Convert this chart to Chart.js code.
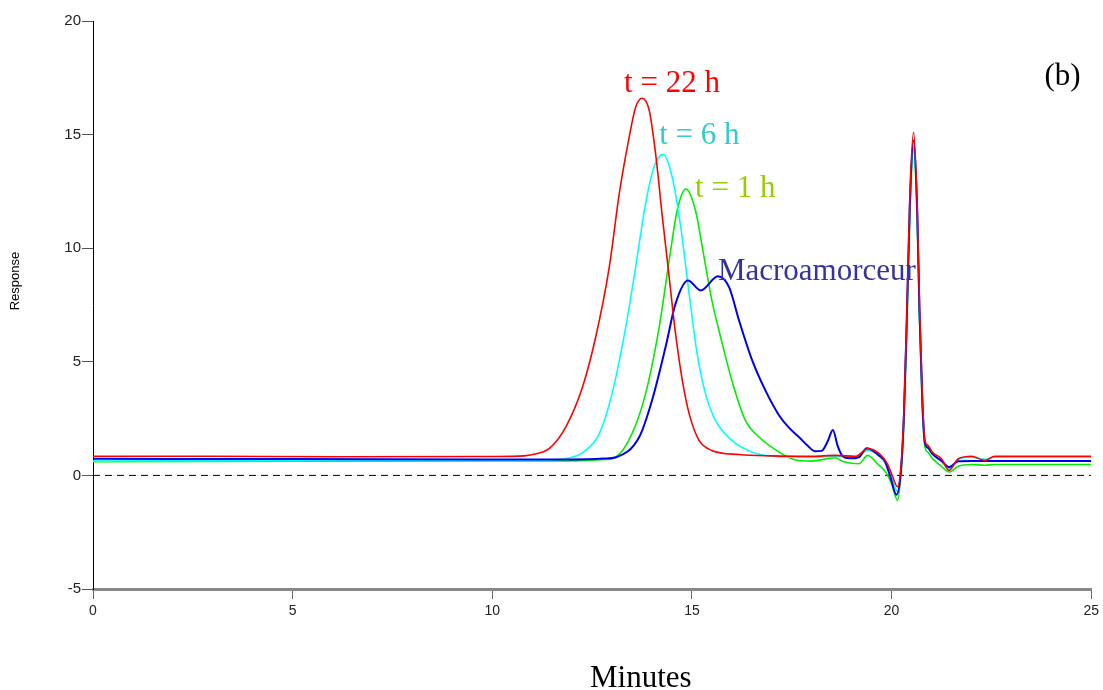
<!DOCTYPE html>
<html>
<head>
<meta charset="utf-8">
<script src="https://cdn.jsdelivr.net/npm/chart.js@4/dist/chart.umd.min.js"></script>
<style>
  html, body { margin: 0; padding: 0; background: #fff; }
  #wrap { width: 1103px; height: 690px; position: relative; }
</style>
</head>
<body>
<div id="wrap"><canvas id="chart"></canvas></div>
<script>
// SEC traces (minutes, response)
const t22Time = [0, 3, 6, 10, 10.8, 11.1, 11.43, 11.84, 12.26, 12.59, 12.93, 13.18, 13.43, 13.59, 13.75, 13.93, 14.09, 14.26, 14.43, 14.59, 14.76, 14.93, 15.18, 15.5, 16.18, 17, 18, 18.6, 19.1, 19.4, 19.7, 19.9, 20.0, 20.15, 20.24, 20.31, 20.38, 20.46, 20.55, 20.64, 20.7, 20.77, 20.83, 20.92, 21.02, 21.25, 21.44, 21.67, 22.0, 22.34, 22.58, 25];
const t22Resp = [0.84, 0.84, 0.82, 0.83, 0.86, 0.95, 1.19, 2.13, 3.89, 6.09, 9.17, 12.4, 14.9, 16.2, 16.6, 16.07, 14.16, 11.37, 8.73, 6.24, 4.18, 2.72, 1.54, 1.1, 0.92, 0.86, 0.84, 0.88, 0.84, 1.17, 0.95, 0.5, 0.07, -0.5, 0.5, 2.8, 7, 12.4, 15.1, 12, 7.5, 3.5, 1.6, 1.3, 1.03, 0.73, 0.22, 0.73, 0.84, 0.66, 0.84, 0.84];

const t6Time = [0, 5, 10, 11.5, 12.0, 12.3, 12.68, 13.0, 13.34, 13.59, 13.84, 14.05, 14.28, 14.51, 14.72, 14.93, 15.13, 15.34, 15.59, 16.0, 16.5, 17.0, 18, 18.6, 19.1, 19.4, 19.7, 19.9, 20.0, 20.15, 20.24, 20.31, 20.38, 20.46, 20.55, 20.64, 20.7, 20.77, 20.83, 20.92, 21.02, 21.25, 21.44, 21.67, 22.0, 22.34, 22.58, 25];
const t6Resp = [0.63, 0.65, 0.66, 0.68, 0.8, 1.05, 1.84, 3.6, 6.5, 9.17, 11.96, 13.57, 14.13, 13.1, 10.93, 8.0, 5.36, 3.6, 2.42, 1.54, 1.03, 0.85, 0.8, 0.85, 0.8, 1.1, 0.85, 0.4, -0.1, -0.7, 0.4, 2.6, 6.6, 11.8, 14.45, 11.5, 7, 3.2, 1.5, 1.2, 0.95, 0.6, 0.3, 0.7, 0.8, 0.7, 0.8, 0.8];

const t1Time = [0, 5, 10, 12, 12.8, 13.09, 13.5, 13.84, 14.18, 14.43, 14.63, 14.85, 15.09, 15.26, 15.5, 15.76, 16.0, 16.34, 16.68, 17.26, 17.6, 18.0, 18.58, 18.8, 19.18, 19.4, 19.65, 19.85, 20.0, 20.15, 20.24, 20.31, 20.38, 20.46, 20.55, 20.64, 20.7, 20.77, 20.83, 20.92, 21.02, 21.25, 21.44, 21.67, 22.0, 22.34, 22.58, 25];
const t1Resp = [0.6, 0.62, 0.64, 0.64, 0.7, 0.8, 1.84, 3.6, 6.53, 9.46, 11.66, 12.6, 11.66, 10.05, 7.7, 5.8, 4.18, 2.42, 1.69, 0.95, 0.68, 0.63, 0.78, 0.6, 0.51, 0.88, 0.51, 0.15, -0.37, -1.1, 0.2, 2.4, 6.4, 11.5, 14.4, 11.3, 6.8, 3.0, 1.3, 1.0, 0.75, 0.4, 0.15, 0.4, 0.48, 0.45, 0.48, 0.48];

const macroTime = [0, 5, 10, 12, 12.8, 13.1, 13.68, 14.0, 14.34, 14.59, 14.9, 15.22, 15.65, 15.93, 16.18, 16.51, 16.84, 17.18, 17.43, 17.68, 17.9, 18.09, 18.25, 18.4, 18.53, 18.65, 18.76, 18.94, 19.18, 19.38, 19.68, 19.84, 19.97, 20.12, 20.24, 20.31, 20.38, 20.46, 20.55, 20.64, 20.7, 20.77, 20.83, 20.92, 21.02, 21.25, 21.44, 21.67, 22.0, 25];
const macroResp = [0.73, 0.72, 0.7, 0.7, 0.74, 0.8, 1.69, 3.3, 5.65, 7.56, 8.58, 8.14, 8.77, 8.29, 6.82, 5.06, 3.74, 2.65, 2.1, 1.69, 1.3, 1.06, 1.08, 1.5, 2.0, 1.3, 0.88, 0.75, 0.8, 1.2, 0.88, 0.59, -0.07, -0.85, 0.3, 2.7, 6.8, 12.1, 14.74, 11.8, 7.2, 3.3, 1.5, 1.2, 0.95, 0.65, 0.37, 0.62, 0.63, 0.63];

const zeroTime = [0, 25];
const zeroResp = [0, 0];

const xTicks = [0, 5, 10, 15, 20, 25];
const yTicks = [-5, 0, 5, 10, 15, 20];

// curve labels, anchored in data units (left edge / baseline)
const labelText = ['t = 22 h', 't = 6 h', 't = 1 h', 'Macroamorceur', '(b)'];
const labelTime = [13.3, 14.18, 15.08, 15.65, 23.83];
const labelResp = [16.86, 14.6, 12.25, 8.61, 17.2];
const labelColor = ['#ff0000', '#33cccc', '#99cc00', '#333399', '#000000'];

const pts = (xs, ys) => xs.map((x, i) => ({ x, y: ys[i] }));

const line = (label, xs, ys, color, width, order) => ({
  label,
  data: pts(xs, ys),
  borderColor: color,
  borderWidth: width,
  pointRadius: 0,
  fill: false,
  cubicInterpolationMode: 'monotone',
  order,
});

const serif = "'Liberation Serif', 'Times New Roman', serif";

const labelsPlugin = {
  id: 'curveLabels',
  afterDraw(chart) {
    const { ctx, scales } = chart;
    ctx.save();
    ctx.font = '31px ' + serif;
    ctx.textAlign = 'left';
    ctx.textBaseline = 'alphabetic';
    labelText.forEach((txt, i) => {
      ctx.fillStyle = labelColor[i];
      ctx.fillText(txt, scales.x.getPixelForValue(labelTime[i]), scales.y.getPixelForValue(labelResp[i]));
    });
    // axis titles
    ctx.fillStyle = '#000';
    ctx.fillText('Minutes', 590, 687);
    ctx.translate(15, 281);
    ctx.rotate(-Math.PI / 2);
    ctx.font = "13px 'Liberation Sans', Arial, sans-serif";
    ctx.textAlign = 'center';
    ctx.textBaseline = 'middle';
    ctx.fillText('Response', 0, 0);
    ctx.restore();
  },
};

new Chart(document.getElementById('chart').getContext('2d'), {
  type: 'line',
  data: {
    datasets: [
      line('t = 22 h', t22Time, t22Resp, '#ff0000', 1.6, 0),
      line('Macroamorceur', macroTime, macroResp, '#0000ee', 2, 1),
      line('t = 6 h', t6Time, t6Resp, '#00ffff', 1.6, 2),
      line('t = 1 h', t1Time, t1Resp, '#00ee00', 1.6, 3),
      {
        label: 'zero',
        data: pts(zeroTime, zeroResp),
        borderColor: '#000',
        borderWidth: 1,
        borderDash: [7, 5],
        pointRadius: 0,
        tension: 0,
        order: 4,
      },
    ],
  },
  options: {
    responsive: true,
    maintainAspectRatio: false,
    animation: false,
    layout: { padding: { left: 0, right: 11, top: 21, bottom: 0 } },
    plugins: { legend: { display: false }, tooltip: { enabled: false } },
    scales: {
      x: {
        type: 'linear',
        min: 0,
        max: 25,
        afterBuildTicks: (s) => { s.ticks = xTicks.map((v) => ({ value: v })); },
        afterFit: (s) => { s.height = 101; },
        border: { color: '#888', width: 3 },
        grid: { drawOnChartArea: false, drawTicks: true, tickLength: 10, color: '#666', lineWidth: 1 },
        ticks: {
          color: '#222',
          padding: 4,
          maxRotation: 0,
          font: { family: "'Liberation Sans Narrow', 'Arial Narrow', 'Liberation Sans', sans-serif", size: 14 },
        },
      },
      y: {
        min: -5,
        max: 20,
        afterBuildTicks: (s) => { s.ticks = yTicks.map((v) => ({ value: v })); },
        afterFit: (s) => { s.width = 93; },
        border: { color: '#000', width: 1 },
        grid: { drawOnChartArea: false, drawTicks: true, tickLength: 11, color: '#555', lineWidth: 1 },
        ticks: {
          color: '#222',
          padding: 1,
          font: { family: "'Liberation Sans', Arial, sans-serif", size: 15 },
        },
      },
    },
  },
  plugins: [labelsPlugin],
});
</script>
</body>
</html>
